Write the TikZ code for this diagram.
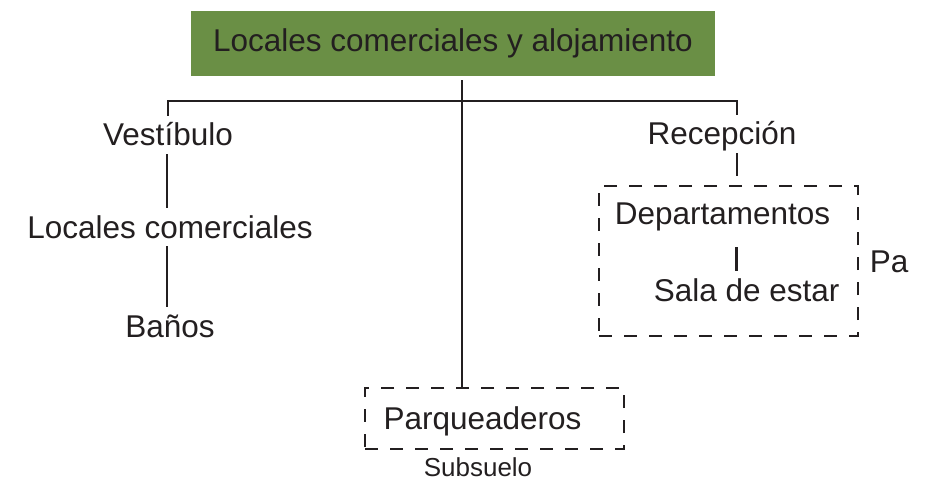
\documentclass[tikz,border=0pt]{standalone}
\usepackage{fontspec}
\setmainfont{Liberation Sans}
\definecolor{TitleGreen}{HTML}{6A8F45}
\definecolor{InkDark}{HTML}{231F20}
\usetikzlibrary{positioning}

\begin{document}
\begin{tikzpicture}[x=1pt, y=-1pt,
      font=\fontsize{31.5}{36}\selectfont, text=InkDark,
      title/.style={fill=TitleGreen, minimum width=524pt, minimum height=65pt, inner sep=0pt},
      item/.style={inner xsep=2pt, inner ysep=8pt, text height=22pt, text depth=0pt},
      zone/.style={draw=InkDark, line width=1.5pt, dash pattern=on 13pt off 12pt, inner sep=0pt},
      link/.style={draw=InkDark, line width=2.5pt},
      note/.style={font=\fontsize{26}{30}\selectfont, inner sep=2pt}
    ]
      \useasboundingbox (0,0) rectangle (937,484);
      \node[title] (top) at (453,43.5) {Locales comerciales y alojamiento};
      \coordinate (hub) at (462,101);
      % left branch
      \node[item] (vest) at (168,135) {Vestíbulo};
      \node[item] (loc) at (170,227) {Locales comerciales};
      \node[item] (banos) at (170,326) {Baños};
      % right branch
      \node[item] (recep) at (722,134) {Recepción};
      \node[zone, minimum width=259pt, minimum height=150pt] (pa) at (728.5,261) {};
      \node[item] (dept) at (722.5,213) {Departamentos};
      \node[item] (sala) at (746.7,290) {Sala de estar};
      \node[item, right=9pt of pa] (lvl) {Pa};
      % centre branch
      \node[zone, minimum width=259pt, minimum height=61pt] (sub) at (494.5,418.5) {};
      \node[item] (parq) at (482.5,418) {Parqueaderos};
      \node[note] (subt) at (478,467) {Subsuelo};
      % connectors
      \draw[link, shorten <=4pt] (hub |- top.south) -- (hub |- sub.north);
      \draw[link] (vest.north) |- (hub) -| ([xshift=15pt]recep.north);
      \draw[link] ([xshift=-1pt]vest.south) -- ([xshift=-1pt]vest.south |- loc.north);
      \draw[link] ([xshift=-3pt]loc.south) -- ([xshift=-3pt]loc.south |- banos.north);
      \draw[link, shorten >=9pt] ([xshift=15pt]recep.south) -- ([xshift=15pt]recep.south |- pa.north);
      \draw[link, shorten <=15pt] ([xshift=14pt]dept.south) -- ([xshift=14pt]dept.south |- sala.north);
    \end{tikzpicture}
\end{document}
